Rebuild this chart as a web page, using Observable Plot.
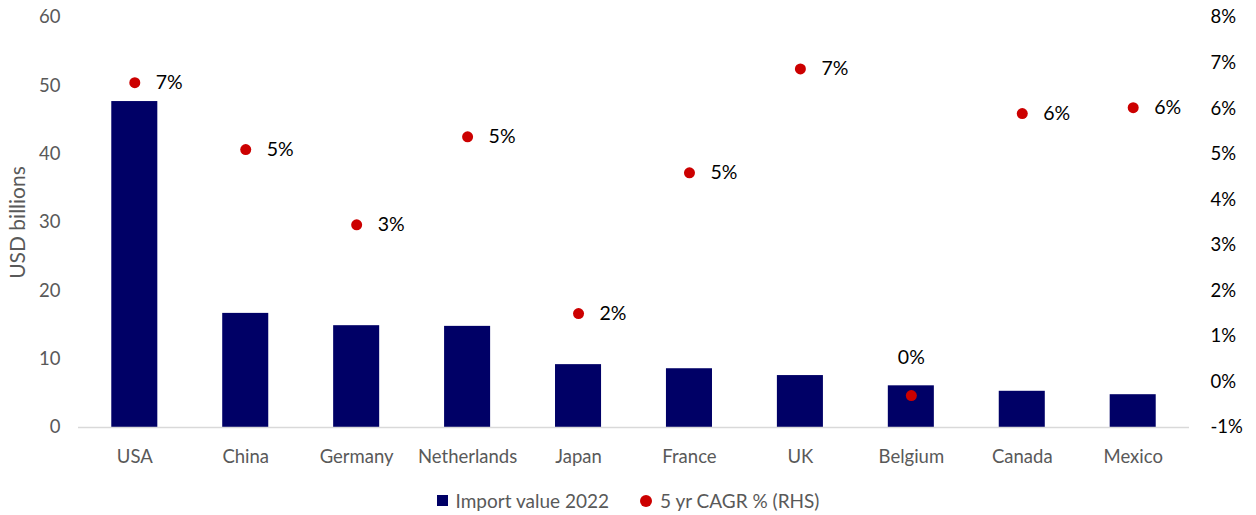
<!DOCTYPE html>
<html>
<head>
<meta charset="utf-8">
<script src="https://cdn.jsdelivr.net/npm/d3@7"></script>
<script src="https://cdn.jsdelivr.net/npm/@observablehq/plot@0.6"></script>
<style>
  html, body { margin: 0; padding: 0; background: #fff; }
  #chart { width: 1256px; }
  .legend { display: flex; justify-content: center; align-items: center; gap: 31px; font-family: Lato, "Open Sans", sans-serif; font-size: 19px; color: #595959; margin-top: 14px; }
  .legend span.item { display: flex; align-items: center; gap: 8px; }
  .sw { display: inline-block; width: 11px; height: 11px; }
</style>
</head>
<body>
<div id="chart"></div>
<script>
const countries = ["USA", "China", "Germany", "Netherlands", "Japan", "France", "UK", "Belgium", "Canada", "Mexico"];
const importValue2022 = [47.7, 16.7, 14.9, 14.8, 9.2, 8.6, 7.6, 6.1, 5.3, 4.8];
const cagr5yr = [6.57, 5.1, 3.45, 5.38, 1.5, 4.59, 6.87, -0.3, 5.89, 6.02];
const leftTicks = [0, 10, 20, 30, 40, 50, 60];
const rightTicks = [-1, 0, 1, 2, 3, 4, 5, 6, 7, 8];

const navy = "#000066";
const red = "#cc0000";
const font = "Lato, 'Open Sans', sans-serif";

// right axis [-1, 8] mapped onto left axis [0, 60]
const toLeft = v => (v + 1) / 9 * 60;
const toRight = y => y / 60 * 9 - 1;
const fmtPct = v => { const r = Math.round(v); return (r === 0 ? 0 : r) + "%"; };

const data = countries.map((c, i) => ({country: c, value: importValue2022[i], cagr: cagr5yr[i]}));
const sideLabels = data.filter(d => d.country !== "Belgium");
const topLabels = data.filter(d => d.country === "Belgium");

const chart = Plot.plot({
  width: 1256,
  height: 475,
  marginLeft: 78,
  marginRight: 67,
  marginTop: 17,
  marginBottom: 48,
  style: {fontFamily: font, fontSize: "18px", background: "#fff"},
  x: {domain: countries, paddingInner: 0.585, paddingOuter: 0.3, round: false},
  y: {domain: [0, 60]},
  marks: [
    Plot.barY(data, {x: "country", y: "value", fill: navy}),
    Plot.ruleY([0], {stroke: "#d9d9d9", strokeWidth: 1.5}),
    Plot.dot(data, {x: "country", y: d => toLeft(d.cagr), r: 5.5, fill: red}),
    Plot.text(sideLabels, {x: "country", y: d => toLeft(d.cagr), text: d => fmtPct(d.cagr), dx: 21, textAnchor: "start", fill: "#000", fontSize: 19.5}),
    Plot.text(topLabels, {x: "country", y: d => toLeft(d.cagr), text: d => fmtPct(d.cagr), dy: -38, textAnchor: "middle", fill: "#000", fontSize: 19.5}),
    Plot.axisX({anchor: "bottom", tickSize: 0, tickPadding: 22, fill: "#595959", fontSize: 18.5, label: null}),
    Plot.axisY({anchor: "left", ticks: leftTicks, tickSize: 0, tickPadding: 18, fill: "#595959", fontSize: 18.5, label: null}),
    Plot.text(["USD billions"], {frameAnchor: "left", rotate: -90, dx: -60, fontSize: 21, fill: "#595959", textAnchor: "middle"}),
    Plot.axisY({anchor: "right", ticks: rightTicks.map(toLeft), tickFormat: y => Math.round(toRight(y)) + "%", tickSize: 0, tickPadding: 21, textAnchor: "start", fill: "#000", fontSize: 18.5, label: null})
  ]
});
document.getElementById("chart").appendChild(chart);

const legend = document.createElement("div");
legend.className = "legend";
legend.innerHTML = `<span class="item"><span class="sw" style="background:${navy}"></span>Import value 2022</span>` +
  `<span class="item"><span class="sw" style="background:${red};border-radius:50%;width:12px;height:12px"></span>5 yr CAGR % (RHS)</span>`;
document.getElementById("chart").appendChild(legend);
</script>
</body>
</html>
